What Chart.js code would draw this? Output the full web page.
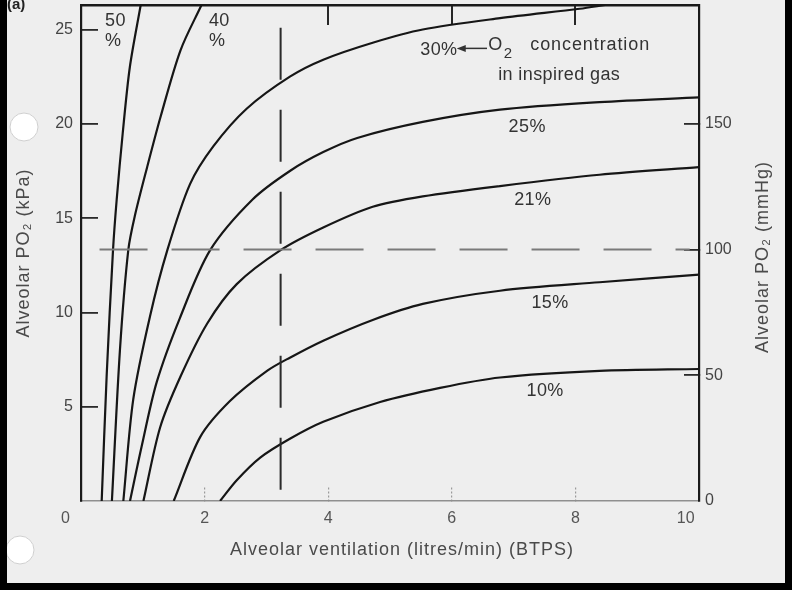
<!DOCTYPE html>
<html>
<head>
<meta charset="utf-8">
<script src="https://cdn.jsdelivr.net/npm/chart.js@4.4.1/dist/chart.umd.min.js"></script>
<style>
  html, body { margin: 0; padding: 0; background: #000; }
  #sheet { position: absolute; left: 7px; top: 0; width: 778px; height: 583px; background: #eeeeee; }
  canvas { display: block; }
</style>
</head>
<body>
<div id="sheet"><canvas id="chart" width="778" height="583"></canvas></div>
<script>
// alveolar ventilation (l/min) against alveolar PO2 (kPa), one curve per inspired O2 %
const o2Labels = ['50 %', '40 %', '30%', '25%', '21%', '15%', '10%'];

const curve50 = [[0.335, 0], [0.416, 6.7], [0.518, 13.3], [0.578, 16.0], [0.675, 19.5], [0.79, 23.0], [0.966, 26.3]];
const curve40 = [[0.50, 0], [0.63, 8.0], [0.765, 13.3], [0.87, 15.1], [1.07, 17.7], [1.29, 20.4], [1.61, 23.9], [1.95, 26.3]];
const curve30 = [[0.685, 0], [0.846, 5.4], [1.117, 9.8], [1.397, 13.3], [1.764, 16.8], [2.14, 18.8], [2.68, 20.8],
                 [3.38, 22.5], [3.92, 23.4], [4.72, 24.3], [5.53, 25.0], [6.78, 25.6], [8.07, 26.1], [8.48, 26.3]];
const curve25 = [[0.793, 0], [0.982, 2.9], [1.225, 6.3], [1.60, 9.7], [2.09, 13.3], [2.78, 16.0], [3.38, 17.5],
                 [3.92, 18.5], [4.47, 19.25], [5.53, 20.1], [6.78, 20.75], [8.39, 21.15], [10, 21.4]];
const curve21 = [[1.01, 0], [1.28, 3.9], [1.61, 6.6], [2.04, 9.4], [2.52, 11.5], [3.23, 13.3], [3.92, 14.5],
                 [4.72, 15.6], [5.53, 16.15], [6.78, 16.7], [8.39, 17.3], [10, 17.7]];
const curve15 = [[1.50, 0], [1.93, 3.4], [2.41, 5.3], [3.01, 6.9], [3.38, 7.6], [3.92, 8.5], [4.72, 9.6],
                 [5.53, 10.45], [6.78, 11.15], [8.39, 11.6], [10, 12.0]];
const curve10 = [[2.25, 0], [2.52, 1.1], [2.90, 2.3], [3.38, 3.3], [3.92, 4.2], [4.84, 5.25], [5.81, 6.0],
                 [6.78, 6.55], [8.39, 6.9], [10, 7.0]];

// dashed guide lines: 100 mmHg (13.33 kPa) and 3.23 l/min
const guideH = [[0.30, 13.33], [9.85, 13.33]];
const guideV = [[3.23, 0.6], [3.23, 25.2]];

const xTicks = [0, 2, 4, 6, 8, 10];
const xTickLabels = ['0       ', '2', '4', '6', '8', '10      '];
const topTicks = [4, 6, 8];
const kpaTicks = [0, 5, 10, 15, 20, 25];
const mmHgTicks = [0, 50, 100, 150];
const KPA_MAX = 26.3;
const MMHG_PER_KPA = 7.50062;

const FONT = "'Liberation Sans', Arial, sans-serif";
const toPts = arr => arr.map(p => ({ x: p[0], y: p[1] }));

function curveSet(label, pts) {
    return {
        label: label,
        data: toPts(pts),
        showLine: true,
        borderColor: '#161616',
        borderWidth: 2.2,
        pointRadius: 0,
        tension: 0.3,
        fill: false
    };
}

const curves = [curve50, curve40, curve30, curve25, curve21, curve15, curve10];

const datasets = [
    { label: 'guide h', data: toPts(guideH), showLine: true, borderColor: '#7a7a7a', borderWidth: 2,
      borderDash: [48, 24], pointRadius: 0 },
    { label: 'guide v', data: toPts(guideV), showLine: true, borderColor: '#2a2a2a', borderWidth: 2,
      borderDash: [52, 30], pointRadius: 0 }
].concat(curves.map((c, i) => curveSet(o2Labels[i], c)));

// text notes on the plot, in data units
const notes = [
    { text: '50', x: 0.39, y: 25.45, align: 'left' },
    { text: '%', x: 0.39, y: 24.39, align: 'left' },
    { text: '40', x: 2.07, y: 25.45, align: 'left' },
    { text: '%', x: 2.07, y: 24.39, align: 'left' },
    { text: '30%', x: 5.49, y: 23.91, align: 'left' },
    { text: 'in inspired gas', x: 6.75, y: 22.59, align: 'left' },
    { text: '25%', x: 7.22, y: 19.83, align: 'center' },
    { text: '21%', x: 7.31, y: 15.96, align: 'center' },
    { text: '15%', x: 7.59, y: 10.50, align: 'center' },
    { text: '10%', x: 7.51, y: 5.83, align: 'center' }
];

const paperNotes = {
    id: 'paperNotes',
    afterDraw(chart) {
        const ctx = chart.ctx;
        const sx = chart.scales.x, sy = chart.scales.y;
        ctx.save();

        // punch holes of the scanned page
        [[17, 127], [13, 550]].forEach(h => {
            ctx.beginPath();
            ctx.arc(h[0], h[1], 14, 0, Math.PI * 2);
            ctx.fillStyle = '#ffffff';
            ctx.fill();
            ctx.strokeStyle = '#cfcfcf';
            ctx.lineWidth = 1;
            ctx.stroke();
        });

        ctx.fillStyle = '#333';
        ctx.textBaseline = 'middle';
        ctx.font = '18px ' + FONT;
        ctx.letterSpacing = '0.4px';
        notes.forEach(n => {
            ctx.textAlign = n.align;
            ctx.fillText(n.text, sx.getPixelForValue(n.x), sy.getPixelForValue(n.y));
        });

        // arrow + "O2 concentration"
        const ay = sy.getPixelForValue(24.0);
        const ax1 = sx.getPixelForValue(6.08), ax2 = sx.getPixelForValue(6.57);
        ctx.strokeStyle = '#333';
        ctx.lineWidth = 1.5;
        ctx.beginPath();
        ctx.moveTo(ax1 + 6, ay);
        ctx.lineTo(ax2, ay);
        ctx.stroke();
        ctx.beginPath();
        ctx.moveTo(ax1, ay);
        ctx.lineTo(ax1 + 9, ay - 3.5);
        ctx.lineTo(ax1 + 9, ay + 3.5);
        ctx.closePath();
        ctx.fillStyle = '#333';
        ctx.fill();

        const oy = sy.getPixelForValue(24.18);
        let ox = sx.getPixelForValue(6.59);
        ctx.textAlign = 'left';
        ctx.font = '18px ' + FONT;
        ctx.fillText('O', ox, oy);
        ox += ctx.measureText('O').width + 1;
        ctx.font = '15px ' + FONT;
        ctx.fillText('2', ox, oy + 9);
        ctx.font = '18px ' + FONT;
        ctx.letterSpacing = '0.9px';
        ctx.fillText('concentration', sx.getPixelForValue(7.27), oy);

        // (a)
        ctx.letterSpacing = '0px';
        ctx.fillStyle = '#222';
        ctx.font = 'bold 15px ' + FONT;
        ctx.fillText('(a)', 0, 5);

        // axis titles
        ctx.fillStyle = '#4a4a4a';
        ctx.font = '18px ' + FONT;
        ctx.letterSpacing = '1px';
        ctx.textAlign = 'center';
        ctx.fillText('Alveolar ventilation (litres/min) (BTPS)', 395, 550);

        ctx.save();
        ctx.translate(17, 253);
        ctx.rotate(-Math.PI / 2);
        ctx.fillText('Alveolar PO\u2082 (kPa)', 0, 0);
        ctx.restore();

        ctx.save();
        ctx.translate(756, 257);
        ctx.rotate(-Math.PI / 2);
        ctx.fillText('Alveolar PO\u2082 (mmHg)', 0, 0);
        ctx.restore();

        ctx.restore();
    }
};

const tickFont = { family: FONT, size: 16 };

// pin the axis boxes so the plot frame lands where the scan has it
function pinBox(prop, size) {
    return s => {
        s[prop] = size;
        s.paddingTop = 0; s.paddingBottom = 0; s.paddingLeft = 0; s.paddingRight = 0;
    };
}

new Chart(document.getElementById('chart'), {
    type: 'scatter',
    data: { datasets: datasets },
    options: {
        responsive: false,
        animation: false,
        devicePixelRatio: 1,
        layout: { padding: 0 },
        plugins: { legend: { display: false }, tooltip: { enabled: false } },
        scales: {
            x: {
                type: 'linear', position: 'bottom', min: 0, max: 10,
                afterBuildTicks: s => { s.ticks = xTicks.map(v => ({ value: v })); },
                afterFit: pinBox('height', 82),
                ticks: {
                    color: '#555', font: tickFont, padding: 23, maxRotation: 0, autoSkip: false,
                    callback: v => xTickLabels[xTicks.indexOf(v)]
                },
                grid: {
                    drawOnChartArea: false, tickLength: -15, lineWidth: 1.2, tickBorderDash: [2, 2],
                    color: c => (c.tick && (c.tick.value === 0 || c.tick.value === 10)) ? 'rgba(0,0,0,0)' : '#9a9a9a'
                },
                border: { color: '#8f8f8f', width: 1.5, dash: [3, 3] }
            },
            xTop: {
                type: 'linear', position: 'top', min: 0, max: 10,
                afterBuildTicks: s => { s.ticks = topTicks.map(v => ({ value: v })); },
                afterFit: pinBox('height', 5),
                ticks: { display: false },
                grid: { drawOnChartArea: false, tickLength: -20, lineWidth: 2, color: '#262626' },
                border: { color: '#1a1a1a', width: 2.5 }
            },
            y: {
                type: 'linear', position: 'left', min: 0, max: KPA_MAX,
                afterBuildTicks: s => { s.ticks = kpaTicks.map(v => ({ value: v })); },
                afterFit: pinBox('width', 74),
                ticks: { color: '#444', font: tickFont, padding: 25, callback: v => v === 0 ? '' : v },
                grid: {
                    drawOnChartArea: false, tickLength: -17, lineWidth: 1.8,
                    color: c => (c.tick && c.tick.value === 0) ? 'rgba(0,0,0,0)' : '#2a2a2a'
                },
                border: { color: '#1a1a1a', width: 2.2 }
            },
            yMmHg: {
                type: 'linear', position: 'right', min: 0, max: KPA_MAX * MMHG_PER_KPA,
                afterBuildTicks: s => { s.ticks = mmHgTicks.map(v => ({ value: v })); },
                afterFit: pinBox('width', 86),
                ticks: { color: '#444', font: tickFont, padding: 21 },
                grid: {
                    drawOnChartArea: false, tickLength: -15, lineWidth: 1.8,
                    color: c => (c.tick && c.tick.value === 0) ? 'rgba(0,0,0,0)' : '#2a2a2a'
                },
                border: { color: '#1a1a1a', width: 2.2 }
            }
        }
    },
    plugins: [paperNotes]
});
</script>
</body>
</html>
